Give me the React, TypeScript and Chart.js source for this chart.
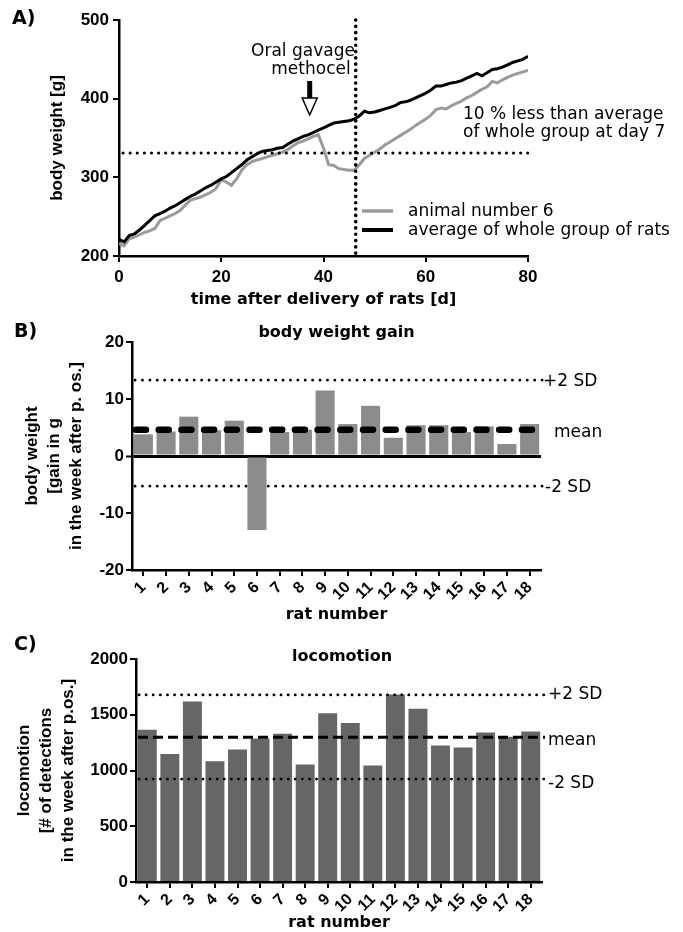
import React, { useEffect, useRef } from 'react';
import { Chart, registerables } from 'chart.js';

Chart.register(...registerables);

const WORD = '"DejaVu Sans", "Noto Sans", sans-serif';
const NUM = '"Liberation Sans", Arial, sans-serif';

// ---------- Panel A data ----------
const days = [
  0, 1, 2, 3, 4, 5, 6, 7, 8, 9, 10, 11, 12, 13, 14, 15, 16, 17, 18, 19, 20,
  21, 22, 23, 24, 25, 26, 27, 28, 29, 30, 31, 32, 33, 34, 35, 36, 37, 38, 39, 40,
  41, 42, 43, 44, 45, 46, 47, 48, 49, 50, 51, 52, 53, 54, 55, 56, 57, 58, 59, 60,
  61, 62, 63, 64, 65, 66, 67, 68, 69, 70, 71, 72, 73, 74, 75, 76, 77, 78, 79, 80,
];
const groupAverageWeight = [
  221, 218, 226, 228, 233, 239, 245, 251, 254, 257,
  261, 264, 268, 272, 276, 279, 283, 287, 290, 294,
  298, 301, 306, 311, 316, 322, 326, 330, 333, 334,
  335, 337, 338, 342, 346, 349, 352, 354, 357, 360,
  363, 366, 369, 370, 371, 372, 374, 378, 384, 382,
  383, 385, 387, 389, 391, 395, 396, 398, 401, 404,
  407, 411, 416, 416, 418, 420, 421, 423, 426, 429,
  432, 429, 433, 437, 438, 440, 443, 446, 448, 450, 454,
];
const animal6Weight = [
  216, 213, 222, 224, 227, 230, 232, 235, 245, 248,
  251, 254, 258, 265, 271, 273, 275, 278, 281, 286,
  297, 294, 290, 298, 309, 316, 320, 322, 324, 326,
  328, 330, 332, 335, 340, 344, 346, 349, 352, 354,
  337, 316, 315, 311, 310, 309, 309, 316, 324, 328,
  332, 336, 341, 345, 349, 353, 357, 361, 366, 370,
  374, 379, 386, 388, 387, 391, 394, 397, 401, 404,
  408, 412, 415, 422, 420, 424, 427, 430, 432, 434, 436,
];
const thresholdWeight = 331; // 10 % less than group average at day 7
const gavageMarkerDay = 37.3;
const gavageEndDay = 46.3;
const seriesNames = ['animal number 6', 'average of whole group of rats'];

// ---------- Panels B / C data ----------
const ratNumbers = ['1', '2', '3', '4', '5', '6', '7', '8', '9', '10', '11', '12', '13', '14', '15', '16', '17', '18'];
const weightGain = [3.8, 4.3, 6.9, 4.5, 6.2, -13, 4.2, 4.6, 11.5, 5.6, 8.8, 3.2, 5.4, 5.4, 4.2, 5.2, 2.1, 5.6];
const weightGainRefs = [13.3, 4.6, -5.3];
const locomotion = [1365, 1147, 1618, 1084, 1188, 1287, 1329, 1054, 1514, 1425, 1045, 1681, 1553, 1224, 1206, 1341, 1302, 1350];
const locomotionRefs = [1678, 1299, 923];
const refLabels = ['+2 SD', 'mean', '-2 SD'];

// ---------- helpers ----------
function dotted(ctx: any, x1: number, y1: number, x2: number, y2: number, w: number, gap: number) {
  ctx.save();
  ctx.beginPath();
  ctx.setLineDash([0.1, gap]);
  ctx.lineCap = 'round';
  ctx.lineWidth = w;
  ctx.strokeStyle = '#000';
  ctx.moveTo(x1, y1);
  ctx.lineTo(x2, y2);
  ctx.stroke();
  ctx.restore();
}
function dashed(ctx: any, x1: number, y: number, x2: number, w: number, dash: number[], cap: string) {
  ctx.save();
  ctx.beginPath();
  ctx.setLineDash(dash);
  ctx.lineCap = cap;
  ctx.lineWidth = w;
  ctx.strokeStyle = '#000';
  ctx.moveTo(x1, y);
  ctx.lineTo(x2, y);
  ctx.stroke();
  ctx.restore();
}
function txt(ctx: any, s: string, x: number, y: number, font: string, align = 'left') {
  ctx.save();
  ctx.font = font;
  ctx.fillStyle = '#000';
  ctx.textAlign = align;
  ctx.textBaseline = 'middle';
  ctx.fillText(s, x, y);
  ctx.restore();
}
function segment(ctx: any, x1: number, x2: number, y: number, color: string, w: number) {
  ctx.save();
  ctx.beginPath();
  ctx.strokeStyle = color;
  ctx.lineWidth = w;
  ctx.moveTo(x1, y);
  ctx.lineTo(x2, y);
  ctx.stroke();
  ctx.restore();
}

const tickFont = (size: number) => ({ family: NUM, size, weight: 'bold' as const });
const plainNumber = (v: any) => String(v);

function axis(size: number) {
  return {
    border: { color: '#000', width: 2.5 },
    grid: { drawOnChartArea: false, color: '#000', lineWidth: 2, tickLength: 6, offset: false },
    ticks: { color: '#000', font: tickFont(size) },
  };
}

// ---------- Panel A ----------
const panelAPlugin = {
  id: 'panelA',
  afterDatasetsDraw(chart: any) {
    const { ctx, chartArea: a, scales } = chart;
    const yT = scales.y.getPixelForValue(thresholdWeight);
    dotted(ctx, a.left + 4, yT, a.right, yT, 3, 7);
    const xV = scales.x.getPixelForValue(gavageEndDay);
    dotted(ctx, xV, a.top, xV, a.bottom, 3.6, 6.2);
  },
  afterDraw(chart: any) {
    const { ctx, scales } = chart;
    txt(ctx, 'A)', 12, 19, `bold 19px ${WORD}`);
    txt(ctx, 'Oral gavage', 303, 52, `17px ${WORD}`, 'center');
    txt(ctx, 'methocel', 311, 70, `17px ${WORD}`, 'center');
    const ax = scales.x.getPixelForValue(gavageMarkerDay);
    ctx.save();
    ctx.fillStyle = '#000';
    ctx.fillRect(ax - 2.5, 81, 5, 18);
    ctx.beginPath();
    ctx.moveTo(ax - 7.5, 98);
    ctx.lineTo(ax + 7.5, 98);
    ctx.lineTo(ax, 115);
    ctx.closePath();
    ctx.fillStyle = '#fff';
    ctx.fill();
    ctx.lineWidth = 1.5;
    ctx.strokeStyle = '#000';
    ctx.stroke();
    ctx.restore();
    txt(ctx, '10 % less than average', 463, 115, `17px ${WORD}`);
    txt(ctx, 'of whole group at day 7', 463, 133, `17px ${WORD}`);
    segment(ctx, 362, 393, 211, '#9a9a9a', 3.5);
    segment(ctx, 362, 393, 230, '#000', 4);
    txt(ctx, seriesNames[0], 408, 212, `17px ${WORD}`);
    txt(ctx, seriesNames[1], 408, 231, `17px ${WORD}`);
  },
};

function configA() {
  const a = axis(17);
  return {
    type: 'line',
    data: {
      datasets: [
        {
          label: seriesNames[0],
          data: days.map((d, i) => ({ x: d, y: animal6Weight[i] })),
          borderColor: '#9a9a9a',
          borderWidth: 3,
          pointRadius: 0,
          order: 1,
        },
        {
          label: seriesNames[1],
          data: days.map((d, i) => ({ x: d, y: groupAverageWeight[i] })),
          borderColor: '#000',
          borderWidth: 3,
          pointRadius: 0,
          order: 0,
        },
      ],
    },
    options: {
      animation: false,
      responsive: false,
      maintainAspectRatio: false,
      layout: { padding: { left: 0, right: 155, top: 20, bottom: 0 } },
      plugins: { legend: { display: false }, tooltip: { enabled: false } },
      scales: {
        x: {
          type: 'linear',
          min: 0,
          max: 80,
          ...a,
          ticks: { ...a.ticks, stepSize: 20, padding: 5, callback: plainNumber },
          title: {
            display: true,
            text: 'time after delivery of rats [d]',
            color: '#000',
            font: { family: WORD, size: 16, weight: 'bold', lineHeight: 1.2 },
            padding: { top: 0, bottom: 6 },
          },
          afterFit: (s: any) => { s.height = 59; },
        },
        y: {
          min: 200,
          max: 500,
          ...a,
          ticks: { ...a.ticks, stepSize: 100, padding: 4, callback: plainNumber },
          title: {
            display: true,
            text: 'body weight [g]',
            color: '#000',
            font: { family: NUM, size: 17, weight: 'bold', lineHeight: 1.2 },
            padding: { top: 47, bottom: 0 },
          },
          afterFit: (s: any) => { s.width = 119; },
        },
      },
    },
    plugins: [panelAPlugin],
  };
}

// ---------- Panels B and C ----------
function barConfig(opts: {
  values: number[];
  color: string;
  min: number;
  max: number;
  step: number;
  yTitle: string[];
  yTitlePad: number;
  yWidth: number;
  xHeight: number;
  padTop: number;
  padRight: number;
  zeroLine: boolean;
  plugin: any;
}) {
  const a = axis(17);
  const xa = axis(16);
  return {
    type: 'bar',
    data: {
      labels: ratNumbers,
      datasets: [
        {
          data: opts.values,
          backgroundColor: opts.color,
          borderWidth: 0,
          barPercentage: 0.84,
          categoryPercentage: 1,
        },
      ],
    },
    options: {
      animation: false,
      responsive: false,
      maintainAspectRatio: false,
      layout: { padding: { left: 0, right: opts.padRight, top: opts.padTop, bottom: 0 } },
      plugins: { legend: { display: false }, tooltip: { enabled: false } },
      scales: {
        x: {
          ...xa,
          ticks: { ...xa.ticks, autoSkip: false, minRotation: 45, maxRotation: 45, padding: 2 },
          title: {
            display: true,
            text: 'rat number',
            color: '#000',
            font: { family: WORD, size: 16, weight: 'bold', lineHeight: 1.1 },
            padding: { top: 0, bottom: opts.xHeight > 55 ? 6 : 0 },
          },
          afterFit: (s: any) => { s.height = opts.xHeight; },
        },
        y: {
          min: opts.min,
          max: opts.max,
          ...a,
          grid: opts.zeroLine
            ? {
                drawOnChartArea: true,
                color: (c: any) => (c.tick && c.tick.value === 0 ? '#000' : 'rgba(0,0,0,0)'),
                lineWidth: (c: any) => (c.tick && c.tick.value === 0 ? 3 : 0),
                tickColor: '#000',
                tickWidth: 2,
                tickLength: 6,
              }
            : a.grid,
          ticks: { ...a.ticks, stepSize: opts.step, padding: 2, callback: plainNumber },
          title: {
            display: true,
            text: opts.yTitle,
            color: '#000',
            font: { family: NUM, size: 17, weight: 'bold', lineHeight: 1.3 },
            padding: { top: opts.yTitlePad, bottom: 0 },
          },
          afterFit: (s: any) => { s.width = opts.yWidth; },
        },
      },
    },
    plugins: [opts.plugin],
  };
}

const panelBPlugin = {
  id: 'panelB',
  beforeDatasetsDraw(chart: any) {
    const { ctx, chartArea: a, scales } = chart;
    [weightGainRefs[0], weightGainRefs[2]].forEach((v) => {
      const y = scales.y.getPixelForValue(v);
      dotted(ctx, a.left + 3, y, a.right + 2, y, 2.8, 7.3);
    });
  },
  afterDatasetsDraw(chart: any) {
    const { ctx, chartArea: a, scales } = chart;
    const ym = scales.y.getPixelForValue(weightGainRefs[1]);
    dashed(ctx, a.left + 4, ym, a.right + 2, 6.5, [10, 12.7], 'round');
    const y0 = scales.y.getPixelForValue(weightGainRefs[0]);
    const y2 = scales.y.getPixelForValue(weightGainRefs[2]);
    txt(ctx, refLabels[0], a.right + 2, y0 + 1, `17px ${WORD}`);
    txt(ctx, refLabels[1], a.right + 13, ym + 3, `17px ${WORD}`);
    txt(ctx, refLabels[2], a.right + 4, y2 + 1, `17px ${WORD}`);
  },
  afterDraw(chart: any) {
    const { ctx, chartArea: a } = chart;
    txt(ctx, 'B)', 14, 17, `bold 19px ${WORD}`);
    txt(ctx, 'body weight gain', (a.left + a.right) / 2, 18, `bold 16px ${WORD}`, 'center');
  },
};

const panelCPlugin = {
  id: 'panelC',
  afterDatasetsDraw(chart: any) {
    const { ctx, chartArea: a, scales } = chart;
    const yp = scales.y.getPixelForValue(locomotionRefs[0]);
    const ym = scales.y.getPixelForValue(locomotionRefs[1]);
    const yn = scales.y.getPixelForValue(locomotionRefs[2]);
    dotted(ctx, a.left + 3, yp, a.right + 4, yp, 2.8, 7);
    dotted(ctx, a.left + 3, yn, a.right + 4, yn, 2.8, 7);
    dashed(ctx, a.left + 2, ym, a.right + 3, 3, [10, 5], 'butt');
    txt(ctx, refLabels[0], a.right + 6, yp, `17px ${WORD}`);
    txt(ctx, refLabels[1], a.right + 6, ym + 3, `17px ${WORD}`);
    txt(ctx, refLabels[2], a.right + 6, yn + 4, `17px ${WORD}`);
  },
  afterDraw(chart: any) {
    const { ctx, chartArea: a } = chart;
    txt(ctx, 'C)', 14, 15, `bold 19px ${WORD}`);
    txt(ctx, 'locomotion', (a.left + a.right) / 2 + 3, 27, `bold 16px ${WORD}`, 'center');
  },
};

function configB() {
  return barConfig({
    values: weightGain,
    color: '#8c8c8c',
    min: -20,
    max: 20,
    step: 10,
    yTitle: ['body weight', '[gain in g', 'in the week after p. os.]'],
    yTitlePad: 21,
    yWidth: 132,
    xHeight: 60,
    padTop: 27,
    padRight: 142,
    zeroLine: true,
    plugin: panelBPlugin,
  });
}

function configC() {
  return barConfig({
    values: locomotion,
    color: '#666666',
    min: 0,
    max: 2000,
    step: 500,
    yTitle: ['locomotion', '[# of detections', 'in the week after p.os.]'],
    yTitlePad: 13,
    yWidth: 136,
    xHeight: 50,
    padTop: 29,
    padRight: 141,
    zeroLine: false,
    plugin: panelCPlugin,
  });
}

function ChartPanel({ top, height, makeConfig }: { top: number; height: number; makeConfig: () => any }) {
  const ref = useRef<HTMLCanvasElement>(null);
  useEffect(() => {
    const chart = new Chart(ref.current as HTMLCanvasElement, makeConfig());
    return () => chart.destroy();
  }, []);
  return (
    <canvas
      ref={ref}
      width={683}
      height={height}
      style={{ position: 'absolute', left: 0, top, width: 683, height }}
    />
  );
}

export default function App() {
  return (
    <div style={{ position: 'absolute', left: 0, top: 0, width: 683, height: 932, background: '#fff' }}>
      <ChartPanel top={0} height={315} makeConfig={configA} />
      <ChartPanel top={315} height={315} makeConfig={configB} />
      <ChartPanel top={630} height={302} makeConfig={configC} />
    </div>
  );
}
